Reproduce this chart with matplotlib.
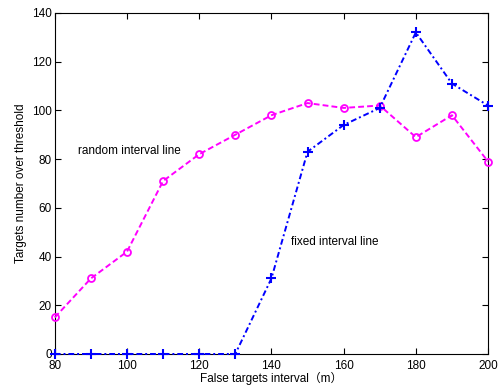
import matplotlib
matplotlib.use('Agg')
import matplotlib.pyplot as plt

plt.rcParams['font.family'] = ['Liberation Sans', 'Noto Sans CJK SC']
plt.rcParams['font.size'] = 8.5

# interval (m) vs number of targets over threshold
interval = [80, 90, 100, 110, 120, 130, 140, 150, 160, 170, 180, 190, 200]
random_line = [15, 31, 42, 71, 82, 90, 98, 103, 101, 102, 89, 98, 79]
fixed_line = [0, 0, 0, 0, 0, 0, 31, 83, 94, 101, 132, 111, 102]

fig = plt.figure(figsize=(4.98, 3.92), dpi=100)
ax = fig.add_axes([0.110, 0.097, 0.870, 0.870])

ax.plot(interval, random_line, color='#ff00ff', linestyle=(0, (3, 1.6)), linewidth=1.4,
        marker='o', markersize=5, markerfacecolor='none', markeredgewidth=1.3,
        clip_on=False, zorder=3)
ax.plot(interval, fixed_line, color='#0000ff', linestyle=(0, (3, 1.5, 1, 1.5)), linewidth=1.4,
        marker='+', markersize=7, markeredgewidth=1.5, clip_on=False, zorder=4)

ax.text(86.5, 83.5, 'random interval line', fontsize=8.5, va='center')
ax.text(145.5, 46, 'fixed interval line', fontsize=8.5, va='center')

ax.set_xlim(80, 200)
ax.set_ylim(0, 140)
ax.set_xticks(range(80, 201, 20))
ax.set_yticks(range(0, 141, 20))
ax.tick_params(direction='in', top=True, right=True, length=4)
ax.tick_params(axis='x', pad=4)
ax.tick_params(axis='y', pad=2)
for s in ax.spines.values():
    s.set_linewidth(0.8)

ax.set_xlabel('False targets interval（m）', labelpad=0)
ax.set_ylabel('Targets number over threshold', labelpad=4)

fig.savefig('out.png', dpi=100)
